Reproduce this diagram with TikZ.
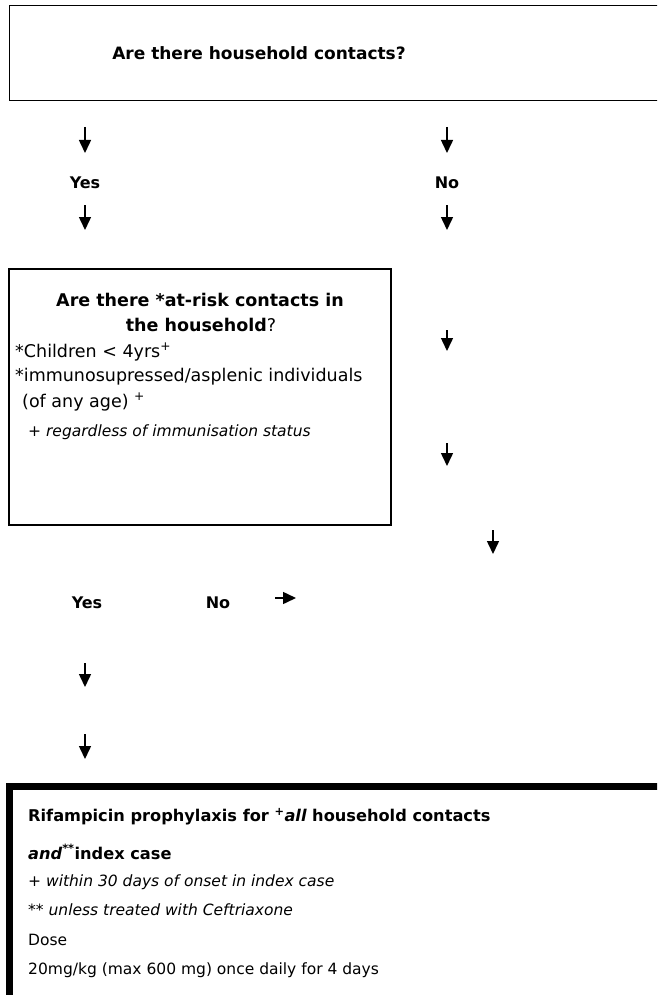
\documentclass[tikz,border=0pt]{standalone}
\usepackage{fontspec}
\setmainfont{DejaVu Sans}
\usetikzlibrary{arrows.meta}
\begin{document}
\begin{tikzpicture}[x=1pt,y=-1pt,
  arr/.style={line width=1.5pt,-{Triangle[length=13pt,width=12pt]}},
  lbl/.style={inner sep=0pt,font=\fontsize{16}{19}\selectfont\bfseries},
  head/.style={inner sep=0pt,font=\fontsize{17.5}{20}\selectfont\bfseries},
  bhead/.style={inner sep=0pt,anchor=west,font=\fontsize{16.2}{19}\selectfont\bfseries},
  txt/.style={inner sep=0pt,anchor=west,font=\fontsize{17.5}{20}\selectfont},
  note/.style={inner sep=0pt,anchor=west,font=\fontsize{15.5}{18}\selectfont\itshape},
  btxt/.style={inner sep=0pt,anchor=west,font=\fontsize{15.5}{18}\selectfont}]
\clip (0,0) rectangle (657,995);
\fill[white] (0,0) rectangle (657,995);
% top box
\draw[line width=1pt] (9,6) rectangle (680,101);
\node[head,font=\fontsize{17}{20}\selectfont\bfseries] (q1) at (259,53) {Are there household contacts?};
% yes / no
\coordinate (a1s) at (85,127); \coordinate (a1e) at (85,153);
\coordinate (b1s) at (447,127); \coordinate (b1e) at (447,153);
\draw[arr] (a1s) -- (a1e);
\draw[arr] (b1s) -- (b1e);
\node[lbl] (yes1) at (85,183) {Yes};
\node[lbl] (no1) at (447,183) {No};
\coordinate (a2s) at (85,205); \coordinate (a2e) at (85,230);
\coordinate (b2s) at (447,205); \coordinate (b2e) at (447,230);
\draw[arr] (a2s) -- (a2e);
\draw[arr] (b2s) -- (b2e);
% box 2
\draw[line width=1.5pt] (9,269) rectangle (391,525);
\node[head] (q2a) at (200,300) {Are there *at-risk contacts in};
\node[head] (q2b) at (201,325) {the household\mdseries ?};
\node[txt] (c1) at (15,352) {*Children < 4yrs\textsuperscript{+}};
\node[txt] (c2) at (15,377) {*immunosupressed/asplenic individuals};
\node[txt] (c3) at (22,402) {(of any age) \textsuperscript{+}};
\node[note] (c4) at (28,432) {+ regardless of immunisation status};
% right column arrows
\coordinate (b3s) at (447,330); \coordinate (b3e) at (447,351);
\coordinate (b4s) at (447,443); \coordinate (b4e) at (447,466);
\coordinate (b5s) at (493,530); \coordinate (b5e) at (493,554);
\draw[arr] (b3s) -- (b3e);
\draw[arr] (b4s) -- (b4e);
\draw[arr] (b5s) -- (b5e);
% yes / no 2
\node[lbl] (yes2) at (87,603) {Yes};
\node[lbl] (no2) at (218,603) {No};
\coordinate (r1s) at (275,598); \coordinate (r1e) at (296,598);
\draw[arr] (r1s) -- (r1e);
\coordinate (a3s) at (85,663); \coordinate (a3e) at (85,687);
\coordinate (a4s) at (85,734); \coordinate (a4e) at (85,759);
\draw[arr] (a3s) -- (a3e);
\draw[arr] (a4s) -- (a4e);
% bottom box
\draw[line width=7pt] (9.5,786) rectangle (690,1030);
\node[bhead] (r1) at (28,817) {Rifampicin prophylaxis for \textsuperscript{+}\itshape all\upshape\ household contacts};
\node[bhead] (r2) at (28,852) {\itshape and\upshape\textsuperscript{**}index case};
\node[note] (r3) at (28,882) {+ within 30 days of onset in index case};
\node[note] (r4) at (28,910) {** unless treated with Ceftriaxone};
\node[btxt] (r5) at (28,940) {Dose};
\node[btxt] (r6) at (28,970) {20mg/kg (max 600 mg) once daily for 4 days};
\end{tikzpicture}
\end{document}
